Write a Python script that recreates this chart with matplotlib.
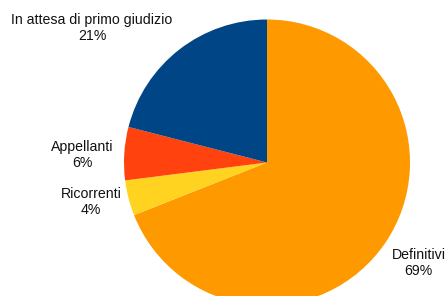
import matplotlib
matplotlib.use("Agg")
import matplotlib.pyplot as plt

categories = ["Definitivi", "Ricorrenti", "Appellanti", "In attesa di primo giudizio"]
values = [69, 4, 6, 21]
colors = ["#FF9900", "#FFD320", "#FF420E", "#004586"]
label_pos = [(418.5, 33), (91, 94), (82, 141), (92, 268)]  # pixel positions (x, y from bottom)

W, H = 446, 296
fig = plt.figure(figsize=(W / 100, H / 100), dpi=100)
ax = fig.add_axes([0, 0, 1, 1])

ax.pie(values, colors=colors, startangle=90, counterclock=False,
       center=(267, 133.5), radius=143, frame=True,
       wedgeprops=dict(linewidth=0))
ax.set_xlim(0, W)
ax.set_ylim(0, H)
ax.set_aspect("equal")
ax.axis("off")

for cat, val, (x, y) in zip(categories, values, label_pos):
    ax.text(x, y, f"{cat}\n{val}%", ha="center", va="center",
            fontsize=10.2, family="Liberation Sans", color="#111111",
            linespacing=1.12)

fig.savefig("out.png", dpi=100)
